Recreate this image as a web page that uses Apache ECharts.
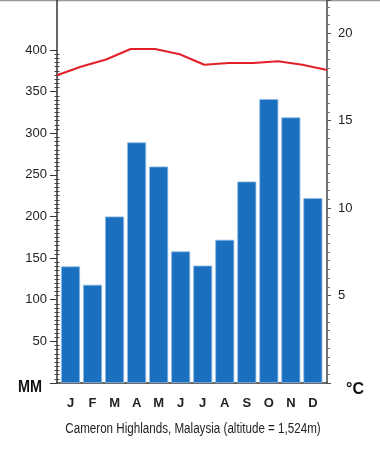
<!DOCTYPE html>
<html><head><meta charset="utf-8">
<script src="https://cdn.jsdelivr.net/npm/echarts@6/dist/echarts.min.js"></script>
<style>html,body{margin:0;padding:0;background:#fff}#c{width:380px;height:450px}</style>
</head><body><div id="c"></div>
<script>
var months = ['J','F','M','A','M','J','J','A','S','O','N','D'];
var rainfall = [140, 118, 200, 289, 260, 158, 141, 172, 242, 341, 319, 222];
var temperature = [17.6, 18.1, 18.5, 19.1, 19.1, 18.8, 18.2, 18.3, 18.3, 18.4, 18.2, 17.9];
var rainTickLabels = [50, 100, 150, 200, 250, 300, 350, 400];
var tempTickLabels = [5, 10, 15, 20];
var caption = 'Cameron Highlands, Malaysia (altitude = 1,524m)';

var FONT = '"Liberation Sans", Arial, sans-serif';
var RAIN_MAX = 460, TICK_MAX = 400, H = 383;
var tickTop = H - H * TICK_MAX / RAIN_MAX;
var chart = echarts.init(document.getElementById('c'), null, {renderer: 'canvas'});
chart.setOption({
  animation: false,
  backgroundColor: '#fff',
  grid: [
    {left: 57, width: 270, top: 0, height: H},
    {left: 59.5, width: 264.4, top: 0, height: H},
    {left: 57, width: 270, top: tickTop, height: H - tickTop}
  ],
  xAxis: [
    {gridIndex: 0, type: 'category', data: months, boundaryGap: false,
     axisLine: {show: true, lineStyle: {color: '#333', width: 1.5}},
     axisTick: {show: false}, axisLabel: {show: false}, splitLine: {show: false}},
    {gridIndex: 1, type: 'category', data: months,
     axisLine: {show: false}, axisTick: {show: false},
     axisLabel: {margin: 14, fontSize: 13, fontWeight: 'bold', color: '#222', fontFamily: FONT},
     splitLine: {show: false}},
    {gridIndex: 2, type: 'category', data: months, show: false}
  ],
  yAxis: [
    {gridIndex: 0, type: 'value', position: 'left', min: 0, max: RAIN_MAX,
     axisLine: {show: true, lineStyle: {color: '#333', width: 1.5}},
     axisTick: {show: false}, axisLabel: {show: false}, splitLine: {show: false}},
    {gridIndex: 0, type: 'value', position: 'right', min: 0, max: 21.9, interval: 5,
     axisLine: {show: true, lineStyle: {color: '#444', width: 1.5}},
     axisTick: {show: true, length: 4, lineStyle: {color: '#555'}},
     minorTick: {show: true, splitNumber: 10, length: 3, lineStyle: {color: '#777'}},
     axisLabel: {margin: 11, fontSize: 13, color: '#222', fontFamily: FONT, showMaxLabel: false,
       formatter: function (v) { return tempTickLabels.indexOf(v) >= 0 ? String(v) : ''; }},
     splitLine: {show: false}, minorSplitLine: {show: false}},
    {gridIndex: 1, type: 'value', min: 0, max: RAIN_MAX, show: false},
    {gridIndex: 2, type: 'value', position: 'left', min: 0, max: TICK_MAX, interval: 50,
     axisLine: {show: false},
     axisTick: {show: true, length: 7, lineStyle: {color: '#333'}},
     minorTick: {show: true, splitNumber: 10, length: 2.5, lineStyle: {color: '#444'}},
     axisLabel: {margin: 10, fontSize: 13, color: '#222', fontFamily: FONT,
       formatter: function (v) { return rainTickLabels.indexOf(v) >= 0 ? String(v) : ''; }},
     splitLine: {show: false}, minorSplitLine: {show: false}},
    {gridIndex: 2, type: 'value', position: 'left', min: 0, max: TICK_MAX, interval: 50,
     axisLine: {show: false},
     axisTick: {show: false, inside: true},
     minorTick: {show: true, splitNumber: 10, length: 2.5, lineStyle: {color: '#444'}},
     axisLabel: {show: false}, splitLine: {show: false}, minorSplitLine: {show: false}}
  ],
  series: [
    {type: 'bar', xAxisIndex: 1, yAxisIndex: 2, data: rainfall, barWidth: 19,
     itemStyle: {color: '#1a6fbe', borderColor: '#8cb8e2', borderWidth: 0.8}, z: 2},
    {type: 'line', xAxisIndex: 0, yAxisIndex: 1, data: temperature, symbol: 'none',
     lineStyle: {color: '#e2202a', width: 2}, z: 3}
  ],
  graphic: [
    {type: 'line', shape: {x1: 0, y1: 0.5, x2: 380, y2: 0.5}, style: {stroke: '#999', lineWidth: 1.5}},
    {type: 'text', left: 18, top: 380, scaleX: 0.9, style: {text: 'MM', font: 'bold 16px ' + FONT, fill: '#111'}},
    {type: 'text', left: 346, top: 382, style: {text: '°C', font: 'bold 16px ' + FONT, fill: '#111'}},
    {type: 'text', x: 193, y: 429, scaleX: 0.83, style: {text: caption, font: '14px ' + FONT, fill: '#222',
      textAlign: 'center', textVerticalAlign: 'middle'}}
  ]
});
</script></body></html>
